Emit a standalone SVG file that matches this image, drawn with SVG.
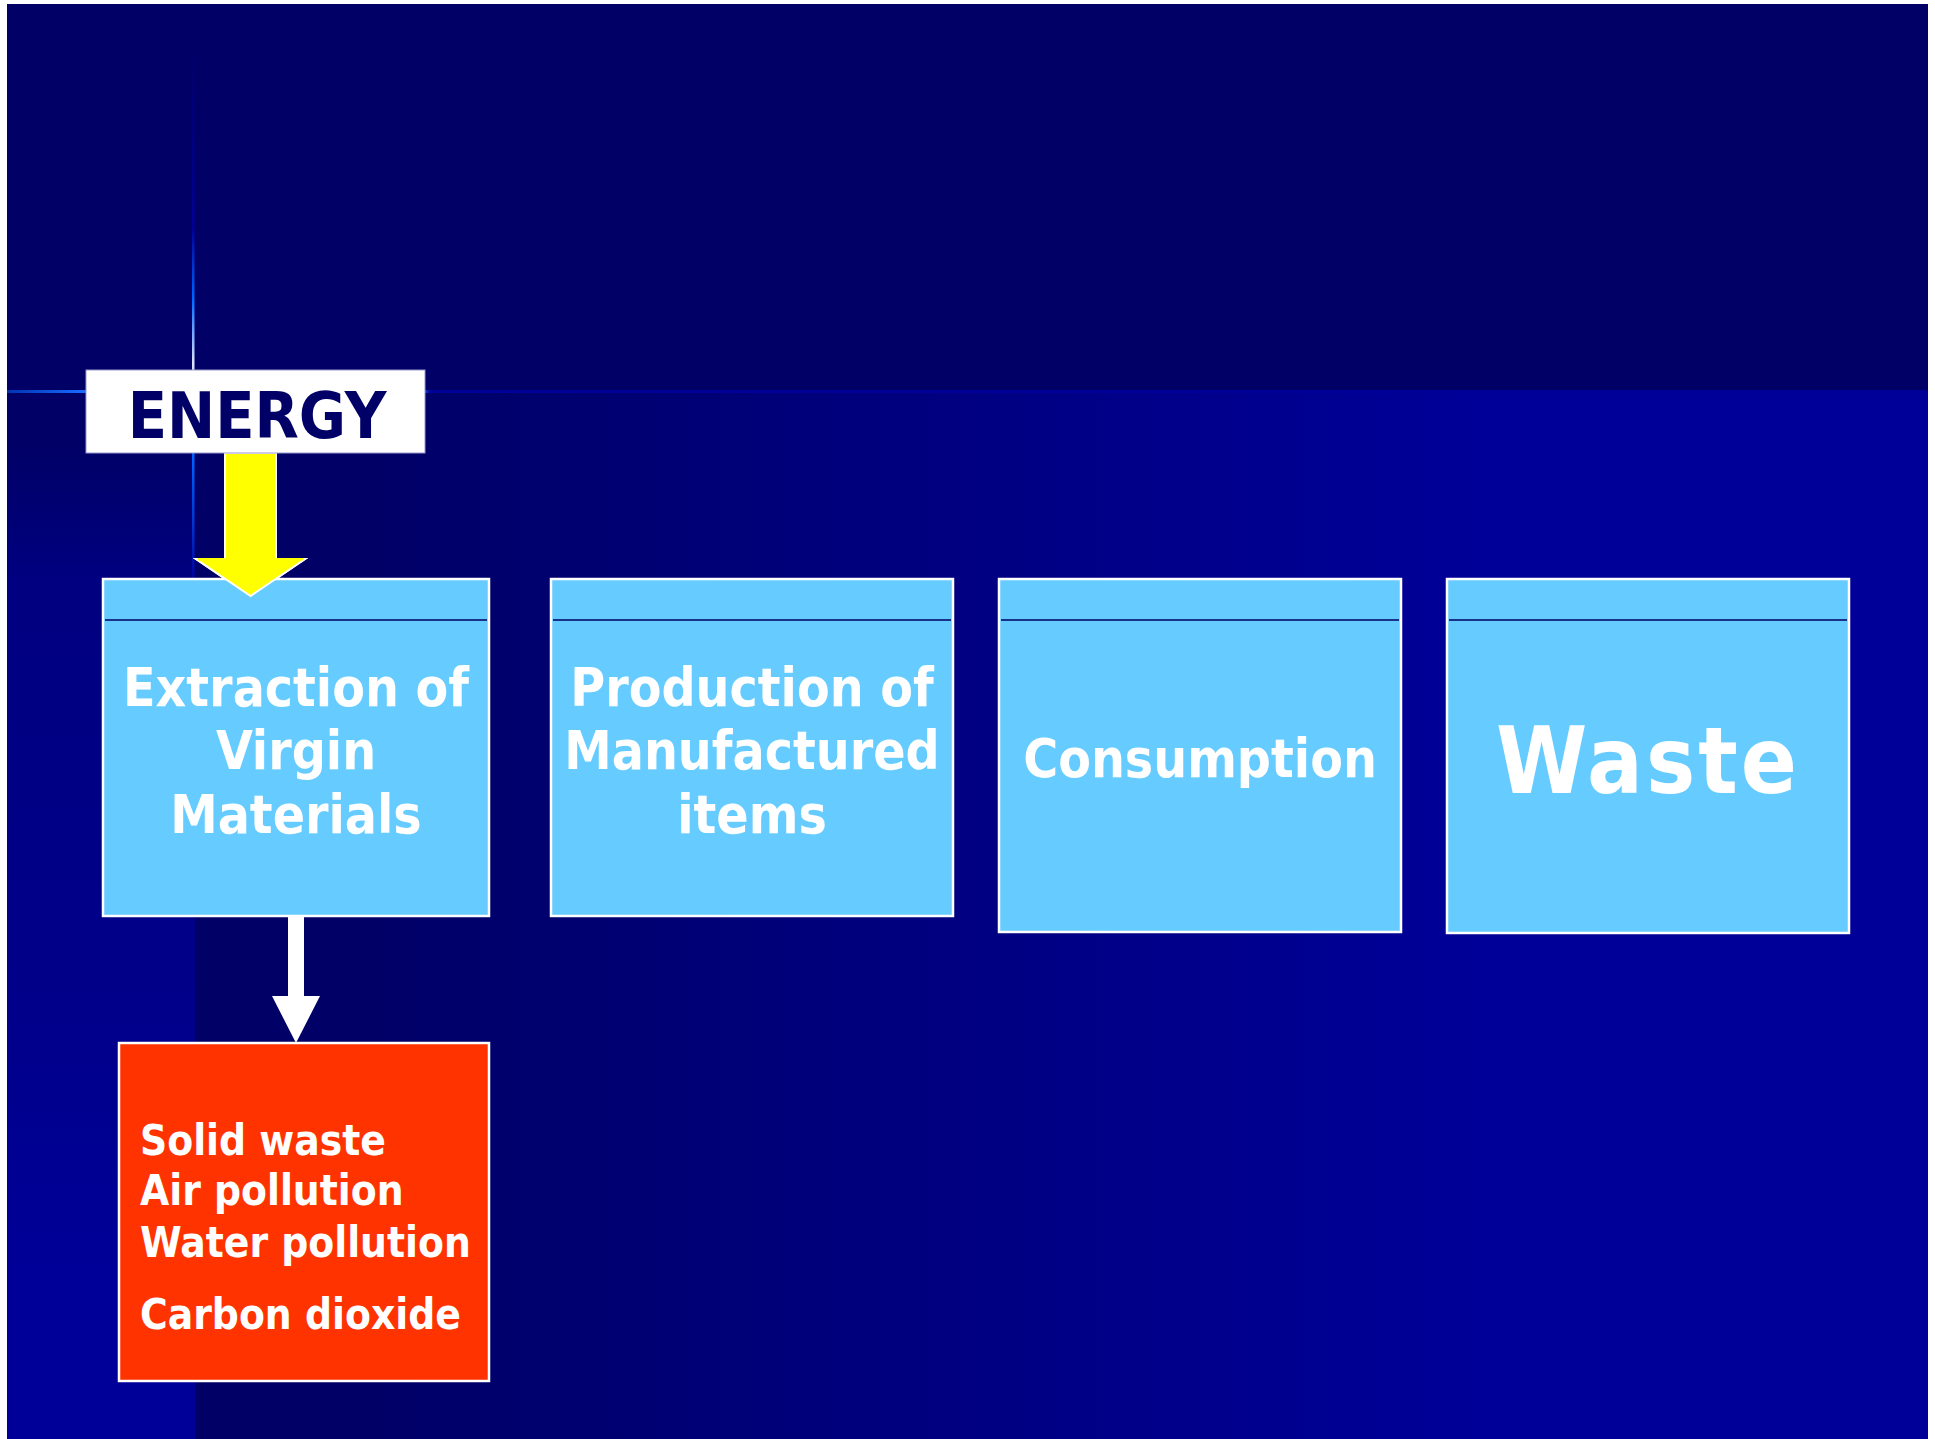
<svg xmlns="http://www.w3.org/2000/svg" width="1935" height="1439" viewBox="0 0 1935 1439">
<defs>
<style>
.box{fill:#66ccff;stroke:#ffffff;stroke-width:2.5}
.hdr{stroke:#000066;stroke-width:1.5}
.t{font-family:"DejaVu Sans Condensed","DejaVu Sans",sans-serif;font-stretch:condensed;font-weight:bold;fill:#ffffff}
.mid{text-anchor:middle;font-size:53px}
.red{font-size:42px}
</style>
<linearGradient id="lower" gradientUnits="userSpaceOnUse" x1="350" y1="0" x2="1500" y2="0">
<stop offset="0" stop-color="#000066"/>
<stop offset="1" stop-color="#000099"/>
</linearGradient>
<linearGradient id="strip" gradientUnits="userSpaceOnUse" x1="0" y1="440" x2="0" y2="1300">
<stop offset="0" stop-color="#000066"/>
<stop offset="0.16" stop-color="#000080"/>
<stop offset="0.65" stop-color="#00008a"/>
<stop offset="1" stop-color="#000099"/>
</linearGradient>
<linearGradient id="vline" gradientUnits="userSpaceOnUse" x1="0" y1="40" x2="0" y2="580">
<stop offset="0" stop-color="#000066"/>
<stop offset="0.35" stop-color="#000099"/>
<stop offset="0.48" stop-color="#0066ff"/>
<stop offset="0.6" stop-color="#e0e4ff"/>
<stop offset="0.76" stop-color="#0066ff"/>
<stop offset="0.9" stop-color="#0033cc"/>
<stop offset="1" stop-color="#000099"/>
</linearGradient>
<linearGradient id="hline" gradientUnits="userSpaceOnUse" x1="7" y1="0" x2="430" y2="0">
<stop offset="0" stop-color="#0033b0"/>
<stop offset="0.18" stop-color="#1a6aff"/>
<stop offset="0.98" stop-color="#1a6aff"/>
<stop offset="1" stop-color="#000099"/>
</linearGradient>
</defs>
<rect x="0" y="0" width="1935" height="1439" fill="#ffffff"/>
<rect x="7" y="4" width="1921" height="389" fill="#000066"/>
<rect x="7" y="393" width="1921" height="1046" fill="url(#lower)"/>
<rect x="7" y="393" width="188" height="1046" fill="url(#strip)"/>
<rect x="192" y="40" width="2.5" height="540" fill="url(#vline)"/>
<rect x="7" y="390" width="1921" height="3" fill="url(#hline)"/>

<g id="connectors">
<polygon points="225,453 276,453 276,559 305,559 250.5,596 196,559 225,559" fill="#ffff00" stroke="#ffffff" stroke-width="2"/>
</g>

<g id="energy">
<rect x="86" y="370" width="339" height="83" fill="#ffffff" stroke="#9999cc" stroke-width="1"/>
<text x="257" y="438" font-family="DejaVu Sans Condensed, DejaVu Sans, sans-serif" font-stretch="condensed" font-weight="bold" font-size="64" fill="#000066" text-anchor="middle">ENERGY</text>
</g>

<g id="extraction">
<rect class="box" x="103" y="579" width="386" height="337"/>
<line class="hdr" x1="105" y1="620" x2="487" y2="620"/>
<text class="t mid" x="296" y="706">Extraction of</text>
<text class="t mid" x="296" y="769">Virgin</text>
<text class="t mid" x="296" y="833">Materials</text>
</g>

<g id="connectors2">
<polygon points="250.5,596 196,559 305,559" fill="#ffff00" stroke="#ffffff" stroke-width="2" stroke-linejoin="miter"/>
<rect x="198" y="558" width="105" height="2.5" fill="#ffff00"/>
<polygon points="288,917 304,917 304,996 320,996 296,1043 272,996 288,996" fill="#ffffff"/>
</g>

<g id="production">
<rect class="box" x="551" y="579" width="402" height="337"/>
<line class="hdr" x1="553" y1="620" x2="951" y2="620"/>
<text class="t mid" x="752" y="706">Production of</text>
<text class="t mid" x="752" y="769">Manufactured</text>
<text class="t mid" x="752" y="833">items</text>
</g>

<g id="consumption">
<rect class="box" x="999" y="579" width="402" height="353"/>
<line class="hdr" x1="1001" y1="620" x2="1399" y2="620"/>
<text class="t mid" x="1200" y="777">Consumption</text>
</g>

<g id="waste">
<rect class="box" x="1447" y="579" width="402" height="354"/>
<line class="hdr" x1="1449" y1="620" x2="1847" y2="620"/>
<text class="t" x="1648" y="793" font-size="92" text-anchor="middle" letter-spacing="3">Waste</text>
</g>

<g id="pollution">
<rect x="119" y="1043" width="370" height="338" fill="#ff3300" stroke="#ffffff" stroke-width="2.5"/>
<text class="t red" x="140" y="1155">Solid waste</text>
<text class="t red" x="140" y="1205">Air pollution</text>
<text class="t red" x="140" y="1257">Water pollution</text>
<text class="t red" x="140" y="1329">Carbon dioxide</text>
</g>
</svg>
